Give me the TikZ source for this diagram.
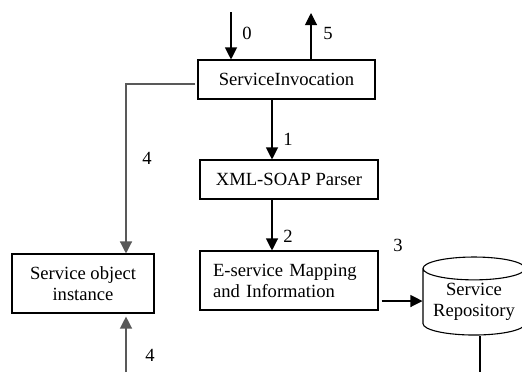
\documentclass[tikz,border=0pt]{standalone}
\usepackage{fontspec}
\setmainfont{Liberation Serif}
\usetikzlibrary{arrows.meta,shapes.geometric}

\begin{document}
\begin{tikzpicture}[x=0.5pt,y=-0.5pt,font=\fontsize{9.3}{10.5}\selectfont,
	box/.style={draw,line width=0.55pt,inner sep=0pt},
	arr/.style={-{Triangle[length=6pt,width=6pt]},line width=0.55pt},
	grey/.style={draw=black!65,line width=0.65pt}]
	\useasboundingbox (0,0) rectangle (522,372);
	\clip (0,0) rectangle (522,372);
	\node[box,minimum width=88.5pt,minimum height=19.5pt] (inv) at (286.5,79.5) {ServiceInvocation};
	\node[box,minimum width=89pt,minimum height=19.5pt] (xml) at (289,179.5) {XML-SOAP Parser};
	\node[box,minimum height=29.5pt,text width=76pt,align=left,inner xsep=6.5pt] (map) at (289,280.5) {E-service Mapping\\and Information};
	\node[box,minimum width=71pt,minimum height=29.5pt,align=center] (obj) at (83,283.5) {Service object\\instance};
	\node[cylinder,draw,line width=0.55pt,shape border rotate=90,aspect=0.28,minimum width=51pt,minimum height=39pt,inner sep=0pt,align=center,anchor=shape center] (repo) at (474,296) {Service\\Repository};
	\coordinate (in) at (231,12);
	\coordinate (out) at (311,13);
	\coordinate (low) at (126,372);
	\coordinate (down) at (480,372);
	\draw[arr] (in) -- (inv.north -| in);
	\draw[arr] (inv.north -| out) -- (out);
	\draw[arr] (inv.south -| 272,0) -- (xml.north -| 272,0);
	\draw[arr] (xml.south -| 272,0) -- (map.north -| 272,0);
	\draw[arr,grey] ([xshift=-1pt]inv.west |- 0,84) -| (obj.north -| low);
	\draw[arr,grey] (low) -- ([yshift=-1.5pt]obj.south -| low);
	\draw[arr] ([xshift=1.5pt]map.east |- 0,301) -- (repo.west |- 0,301);
	\draw[line width=0.55pt] (repo.south -| down) -- (down);
	\node (n0) at (247,33) {0};
	\node (n5) at (328,33) {5};
	\node (n1) at (288,139) {1};
	\node (n2) at (288,236) {2};
	\node (n3) at (398,245) {3};
	\node (n4a) at (147,158) {4};
	\node (n4b) at (150,355) {4};
\end{tikzpicture}
\end{document}
